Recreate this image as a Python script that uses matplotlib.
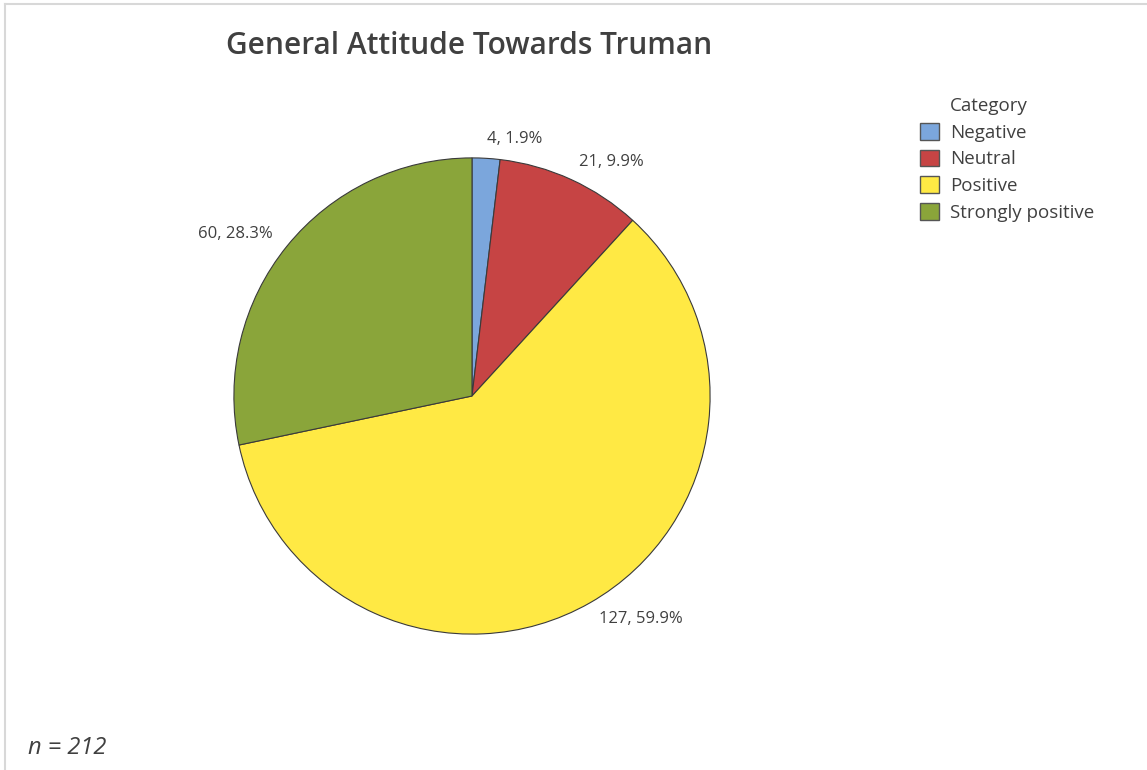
import matplotlib.pyplot as plt
from matplotlib.lines import Line2D
from matplotlib.patches import Patch

categories = ["Negative", "Neutral", "Positive", "Strongly positive"]
counts = [4, 21, 127, 60]
colors = ["#7BA6DC", "#C64444", "#FFE944", "#8AA53A"]
title = "General Attitude Towards Truman"
n_total = sum(counts)

plt.rcParams["font.family"] = ["Open Sans", "DejaVu Sans"]
text_color = "#404040"

fig = plt.figure(figsize=(11.47, 7.70), dpi=100)
W, H = 1147, 770

# pie axes: centre at (472, 396) px, radius ~238 px
size = 500
ax = fig.add_axes([(472 - size / 2) / W, (H - 396 - size / 2) / H, size / W, size / H])

labels = [f"{c}, {c / n_total * 100:.1f}%" for c in counts]
wedges, texts = ax.pie(
    counts,
    colors=colors,
    labels=labels,
    startangle=90,
    counterclock=False,
    labeldistance=1.08,
    radius=1.0,
    wedgeprops=dict(edgecolor="#3a3a3a", linewidth=0.8),
    textprops=dict(fontsize=12, color=text_color),
    frame=False,
)
ax.set_xlim(-1.05, 1.05)
ax.set_ylim(-1.05, 1.05)
ax.set_aspect("equal")
ax.axis("off")

fig.text(469 / W, 1 - 46 / H, title, ha="center", va="center",
         fontsize=21.5, fontweight="semibold", color=text_color)

handles = [Patch(facecolor=c, edgecolor="#555555", linewidth=1.0) for c in colors]
leg = fig.legend(handles, categories, title="Category", loc="upper left",
                 bbox_to_anchor=(907 / W, 1 - 84 / H), frameon=False,
                 fontsize=13.5, title_fontsize=13.5, handlelength=1.0, handleheight=1.0,
                 handletextpad=0.6, labelspacing=0.42, borderpad=0.2)
leg._legend_box.align = "left"
for t in leg.get_texts():
    t.set_color(text_color)
leg.get_title().set_color(text_color)
leg.get_title().set_position((30, 0))

fig.text(28 / W, 1 - 748 / H, f"n = {n_total}", ha="left", va="center",
         fontsize=17, fontstyle="italic", color=text_color)

# light frame on top and left edge
fig.add_artist(Line2D([5 / W, 1], [1 - 4 / H, 1 - 4 / H], transform=fig.transFigure,
                      color="#d8d8d8", linewidth=1.5))
fig.add_artist(Line2D([5 / W, 5 / W], [0, 1 - 4 / H], transform=fig.transFigure,
                      color="#d8d8d8", linewidth=1.5))

fig.savefig("out.png", dpi=100, facecolor="white")
